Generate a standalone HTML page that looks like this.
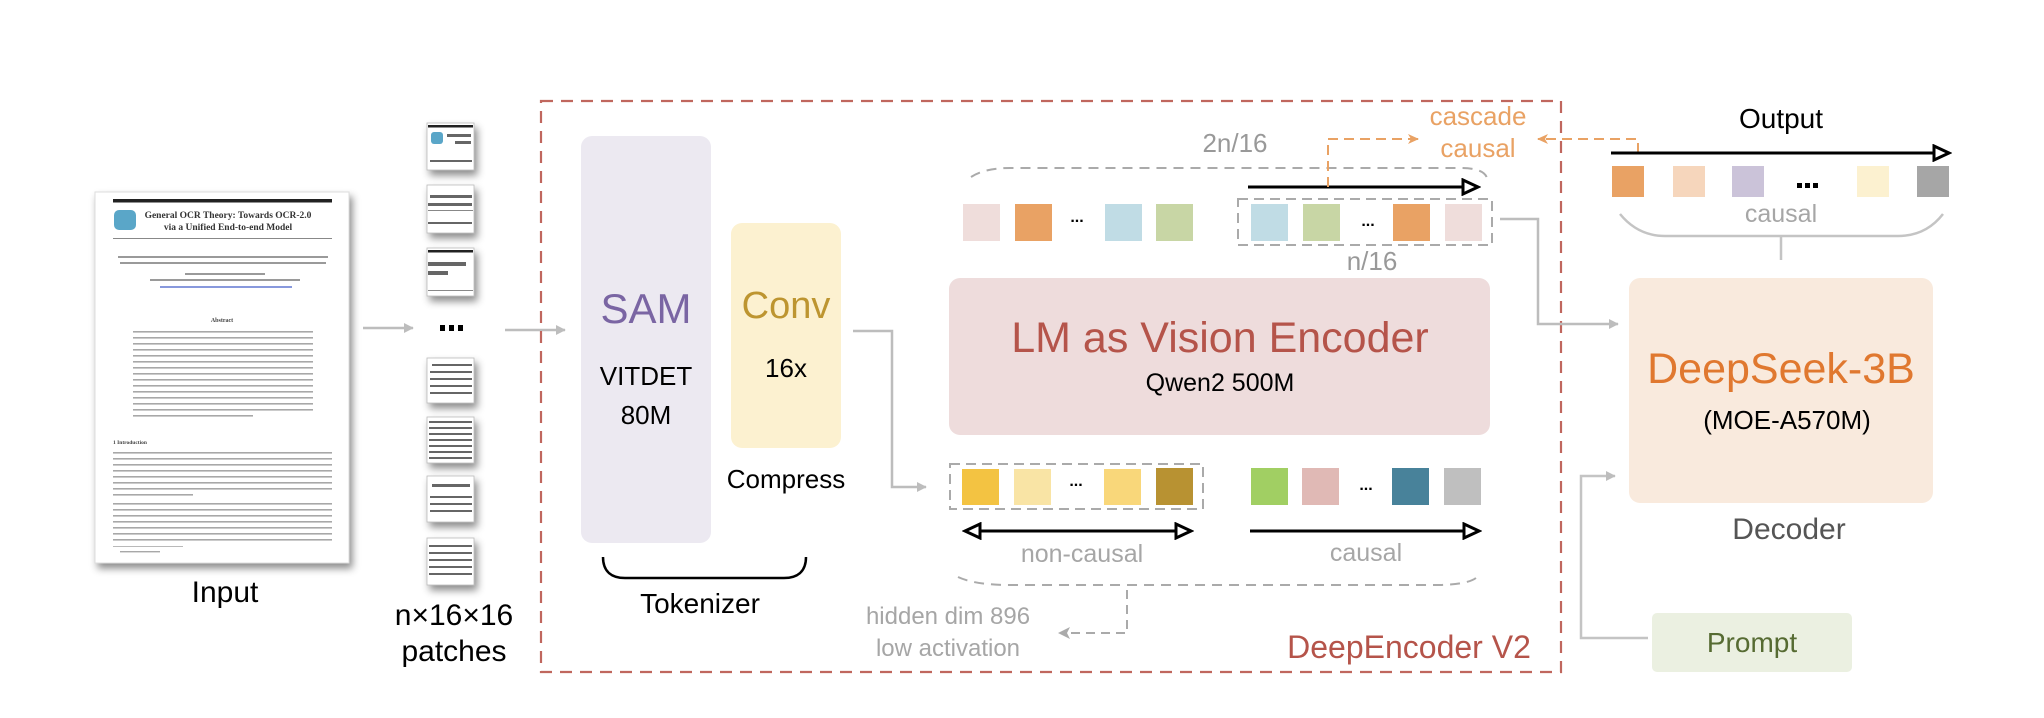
<!DOCTYPE html>
<html><head><meta charset="utf-8"><style>
html,body{margin:0;padding:0;background:#fff}
svg{display:block}
text{font-family:"Liberation Sans",Arial,sans-serif}
.serif{font-family:"Liberation Serif",serif}
</style></head><body>
<svg width="2044" height="718" viewBox="0 0 2044 718" xmlns="http://www.w3.org/2000/svg">
<defs>
<filter id="sh" x="-20%" y="-20%" width="150%" height="150%"><feDropShadow dx="3" dy="5" stdDeviation="4" flood-color="#000" flood-opacity="0.45"/></filter>
<marker id="ga" markerWidth="10" markerHeight="10" refX="9" refY="5" orient="auto" markerUnits="userSpaceOnUse"><path d="M0,0 L14,5 L0,10 Z" fill="#bdbdbd" transform="scale(0.7,1)"/></marker>
<marker id="oa" markerWidth="12" markerHeight="12" refX="10" refY="6" orient="auto" markerUnits="userSpaceOnUse"><path d="M0,1 L11,6 L0,11 L3,6 Z" fill="#e9a264"/></marker>
<marker id="ba" markerWidth="20" markerHeight="18" refX="17" refY="9" orient="auto" markerUnits="userSpaceOnUse"><path d="M2,2 L17,9 L2,16 Z" fill="#fff" stroke="#000" stroke-width="3"/></marker>
<marker id="bs" markerWidth="20" markerHeight="18" refX="3" refY="9" orient="auto" markerUnits="userSpaceOnUse"><path d="M18,2 L3,9 L18,16 Z" fill="#fff" stroke="#000" stroke-width="3"/></marker>
</defs>

<!-- Input document -->
<g filter="url(#sh)"><rect x="95" y="192" width="254" height="371" fill="#fff" stroke="#ddd"/></g>
<rect x="113" y="199" width="219" height="3.5" fill="#222"/>
<rect x="114" y="210" width="22" height="20" rx="5" fill="#5aa6c8"/>
<text x="228" y="218" font-size="9.5" font-weight="bold" class="serif" text-anchor="middle" fill="#333">General OCR Theory: Towards OCR-2.0</text>
<text x="228" y="230" font-size="9.5" font-weight="bold" class="serif" text-anchor="middle" fill="#333">via a Unified End-to-end Model</text>
<rect x="113" y="238" width="219" height="1" fill="#888"/>
<g fill="#9a9a9a">
<rect x="118" y="256" width="210" height="2"/><rect x="120" y="262" width="206" height="2"/>
<rect x="185" y="273" width="80" height="2"/><rect x="150" y="279" width="150" height="2"/>
</g>
<rect x="160" y="286" width="132" height="2" fill="#8899dd"/>
<text x="222" y="322" font-size="6" font-weight="bold" class="serif" text-anchor="middle" fill="#444">Abstract</text>
<g fill="#a8a8a8">
<rect x="133" y="331" width="180" height="1.6"/><rect x="133" y="337" width="180" height="1.6"/><rect x="133" y="343" width="180" height="1.6"/><rect x="133" y="349" width="180" height="1.6"/><rect x="133" y="355" width="180" height="1.6"/><rect x="133" y="361" width="180" height="1.6"/><rect x="133" y="367" width="180" height="1.6"/><rect x="133" y="373" width="180" height="1.6"/><rect x="133" y="379" width="180" height="1.6"/><rect x="133" y="385" width="180" height="1.6"/><rect x="133" y="391" width="180" height="1.6"/><rect x="133" y="397" width="180" height="1.6"/><rect x="133" y="403" width="180" height="1.6"/><rect x="133" y="409" width="180" height="1.6"/><rect x="133" y="415" width="120" height="1.6"/>
</g>
<text x="113" y="444" font-size="5.5" font-weight="bold" class="serif" fill="#444">1   Introduction</text>
<g fill="#a8a8a8">
<rect x="113" y="452" width="219" height="1.6"/><rect x="113" y="458" width="219" height="1.6"/><rect x="113" y="464" width="219" height="1.6"/><rect x="113" y="470" width="219" height="1.6"/><rect x="113" y="476" width="219" height="1.6"/><rect x="113" y="482" width="219" height="1.6"/><rect x="113" y="488" width="219" height="1.6"/><rect x="113" y="494" width="80" height="1.6"/>
<rect x="113" y="503" width="219" height="1.6"/><rect x="113" y="509" width="219" height="1.6"/><rect x="113" y="515" width="219" height="1.6"/><rect x="113" y="521" width="219" height="1.6"/><rect x="113" y="527" width="219" height="1.6"/><rect x="113" y="533" width="219" height="1.6"/><rect x="113" y="539" width="219" height="1.6"/>
<rect x="113" y="546" width="70" height="0.8"/><rect x="120" y="551" width="40" height="1.4"/>
</g>
<text x="225" y="602" font-size="30" text-anchor="middle" fill="#000">Input</text>

<!-- arrow doc -> patches -->
<line x1="363" y1="328" x2="413" y2="328" stroke="#bdbdbd" stroke-width="2.5" marker-end="url(#ga)"/>

<!-- patches -->
<g filter="url(#sh)" fill="#fff" stroke="#bbb" stroke-width="0.8">
<rect x="427" y="123" width="47" height="47"/>
<rect x="427" y="185" width="47" height="48"/>
<rect x="427" y="248" width="47" height="48"/>
<rect x="427" y="358" width="47" height="45"/>
<rect x="427" y="417" width="47" height="46"/>
<rect x="427" y="476" width="47" height="46"/>
<rect x="427" y="538" width="47" height="47"/>
</g>
<g fill="#666">
<rect x="428" y="125" width="45" height="2.5" fill="#222"/><rect x="431" y="132" width="12" height="12" rx="3" fill="#5aa6c8"/>
<rect x="447" y="134" width="24" height="3"/><rect x="455" y="141" width="16" height="3"/><rect x="430" y="160" width="42" height="2"/>
<rect x="430" y="195" width="42" height="3"/><rect x="428" y="203" width="44" height="3"/><rect x="428" y="210" width="45" height="1" fill="#888"/><rect x="428" y="222" width="44" height="2"/>
<rect x="428" y="250" width="45" height="2.5" fill="#222"/><rect x="428" y="262" width="38" height="4"/><rect x="428" y="271" width="20" height="4"/><rect x="428" y="290" width="45" height="1" fill="#888"/>
<rect x="432" y="364" width="40" height="2"/><rect x="430" y="371" width="42" height="2"/><rect x="430" y="378" width="42" height="2"/><rect x="430" y="385" width="42" height="2"/><rect x="430" y="392" width="42" height="2"/>
<rect x="429" y="421" width="43" height="2"/><rect x="429" y="427" width="43" height="2"/><rect x="429" y="433" width="43" height="2"/><rect x="429" y="439" width="43" height="2"/><rect x="429" y="445" width="43" height="2"/><rect x="429" y="451" width="43" height="2"/><rect x="429" y="457" width="43" height="2"/>
<rect x="432" y="484" width="38" height="3"/><rect x="430" y="496" width="42" height="2"/><rect x="430" y="503" width="42" height="2"/><rect x="430" y="510" width="42" height="2"/>
<rect x="429" y="545" width="43" height="2"/><rect x="429" y="552" width="43" height="2"/><rect x="429" y="559" width="43" height="2"/><rect x="429" y="566" width="43" height="2"/><rect x="429" y="573" width="43" height="2"/>
</g>
<g fill="#000"><rect x="440" y="325" width="5" height="6"/><rect x="449" y="325" width="5" height="6"/><rect x="458" y="325" width="5" height="6"/></g>
<text x="454" y="625" font-size="30" text-anchor="middle" fill="#000">n×16×16</text>
<text x="454" y="661" font-size="30" text-anchor="middle" fill="#000">patches</text>

<!-- arrow patches -> SAM -->
<line x1="505" y1="330" x2="565" y2="330" stroke="#bdbdbd" stroke-width="2.5" marker-end="url(#ga)"/>

<!-- DeepEncoder dashed box -->
<rect x="541" y="101" width="1020" height="571" fill="none" stroke="#c0675e" stroke-width="2.2" stroke-dasharray="12,8"/>

<!-- SAM -->
<rect x="581" y="136" width="130" height="407" rx="11" fill="#ece9f1"/>
<text x="646" y="323" font-size="42" text-anchor="middle" fill="#7a65a3">SAM</text>
<text x="646" y="385" font-size="26" text-anchor="middle" fill="#000">VITDET</text>
<text x="646" y="424" font-size="26" text-anchor="middle" fill="#000">80M</text>
<!-- Conv -->
<rect x="731" y="223" width="110" height="225" rx="11" fill="#fcf1d0"/>
<text x="786" y="318" font-size="38" text-anchor="middle" fill="#bd9530">Conv</text>
<text x="786" y="377" font-size="26" text-anchor="middle" fill="#000">16x</text>
<text x="786" y="488" font-size="26" text-anchor="middle" fill="#000">Compress</text>
<path d="M603,557 C603,572 612,578 625,578 L784,578 C797,578 806,572 806,557" fill="none" stroke="#000" stroke-width="2.5"/>
<text x="700" y="613" font-size="28" text-anchor="middle" fill="#000">Tokenizer</text>

<!-- conv -> bottom tokens -->
<polyline points="853,331 892,331 892,487 926,487" fill="none" stroke="#bdbdbd" stroke-width="2.5" marker-end="url(#ga)"/>

<!-- top tokens -->
<path d="M971,177 Q985,168 1010,168 L1460,168 Q1484,168 1487,178" fill="none" stroke="#aaa" stroke-width="2" stroke-dasharray="10,7"/>
<text x="1235" y="152" font-size="26" text-anchor="middle" fill="#999">2n/16</text>
<rect x="963" y="204" width="37" height="37" fill="#efdddb"/>
<rect x="1015" y="204" width="37" height="37" fill="#e9a264"/>
<text x="1077" y="222" font-size="16" font-weight="bold" text-anchor="middle" fill="#000">...</text>
<rect x="1105" y="204" width="37" height="37" fill="#c0dce5"/>
<rect x="1156" y="204" width="37" height="37" fill="#c8d6a5"/>
<rect x="1238" y="199" width="254" height="46" fill="none" stroke="#aaa" stroke-width="2" stroke-dasharray="10,6"/>
<rect x="1251" y="204" width="37" height="37" fill="#c0dce5"/>
<rect x="1303" y="204" width="37" height="37" fill="#c8d6a5"/>
<text x="1368" y="226" font-size="16" font-weight="bold" text-anchor="middle" fill="#000">...</text>
<rect x="1393" y="204" width="37" height="37" fill="#e9a264"/>
<rect x="1445" y="204" width="37" height="37" fill="#efdddb"/>
<line x1="1248" y1="187" x2="1478" y2="187" stroke="#000" stroke-width="3" marker-end="url(#ba)"/>
<text x="1372" y="270" font-size="26" text-anchor="middle" fill="#999">n/16</text>
<polyline points="1328,187 1328,139 1418,139" fill="none" stroke="#e9a264" stroke-width="2" stroke-dasharray="10,6" marker-end="url(#oa)"/>
<text x="1478" y="125" font-size="26" text-anchor="middle" fill="#e9a264">cascade</text>
<text x="1478" y="157" font-size="26" text-anchor="middle" fill="#e9a264">causal</text>
<polyline points="1638,153 1638,139 1538,139" fill="none" stroke="#e9a264" stroke-width="2" stroke-dasharray="10,6" marker-end="url(#oa)"/>

<!-- LM box -->
<rect x="949" y="278" width="541" height="157" rx="11" fill="#eedcdc"/>
<text x="1220" y="352" font-size="43" text-anchor="middle" fill="#b5544a">LM as Vision Encoder</text>
<text x="1220" y="391" font-size="25" text-anchor="middle" fill="#000">Qwen2 500M</text>

<!-- top tokens -> decoder -->
<polyline points="1500,219 1538,219 1538,324 1618,324" fill="none" stroke="#bdbdbd" stroke-width="2.5" marker-end="url(#ga)"/>

<!-- bottom tokens -->
<rect x="950" y="464" width="253" height="45" fill="none" stroke="#aaa" stroke-width="2" stroke-dasharray="10,6"/>
<rect x="962" y="469" width="37" height="36" fill="#f3c342"/>
<rect x="1014" y="469" width="37" height="36" fill="#f9e4a5"/>
<text x="1076" y="486" font-size="16" font-weight="bold" text-anchor="middle" fill="#000">...</text>
<rect x="1104" y="469" width="37" height="36" fill="#f9d77a"/>
<rect x="1156" y="468" width="37" height="37" fill="#b89232"/>
<rect x="1251" y="468" width="37" height="37" fill="#a1cf63"/>
<rect x="1302" y="468" width="37" height="37" fill="#e0b9b5"/>
<text x="1366" y="490" font-size="16" font-weight="bold" text-anchor="middle" fill="#000">...</text>
<rect x="1392" y="468" width="37" height="37" fill="#48829a"/>
<rect x="1444" y="468" width="37" height="37" fill="#bfbfbf"/>
<line x1="965" y1="531" x2="1191" y2="531" stroke="#000" stroke-width="3" marker-start="url(#bs)" marker-end="url(#ba)"/>
<line x1="1250" y1="531" x2="1479" y2="531" stroke="#000" stroke-width="3" marker-end="url(#ba)"/>
<text x="1082" y="562" font-size="25" text-anchor="middle" fill="#a6a6a6">non-causal</text>
<text x="1366" y="561" font-size="25" text-anchor="middle" fill="#a6a6a6">causal</text>
<path d="M958,577 Q975,585 1010,585 L1440,585 Q1472,584 1478,576" fill="none" stroke="#aaa" stroke-width="2" stroke-dasharray="10,7"/>
<polyline points="1127,590 1127,633 1062,633" fill="none" stroke="#aaa" stroke-width="2" stroke-dasharray="9,6"/>
<path d="M1058,633 L1070,627 L1067,633 L1070,639 Z" fill="#aaa"/>
<text x="948" y="624" font-size="24" text-anchor="middle" fill="#a6a6a6">hidden dim 896</text>
<text x="948" y="656" font-size="24" text-anchor="middle" fill="#a6a6a6">low activation</text>
<text x="1409" y="658" font-size="32" text-anchor="middle" fill="#b5544a">DeepEncoder V2</text>

<!-- Output -->
<text x="1781" y="128" font-size="28" text-anchor="middle" fill="#000">Output</text>
<line x1="1611" y1="153" x2="1949" y2="153" stroke="#000" stroke-width="3" marker-end="url(#ba)"/>
<rect x="1612" y="166" width="32" height="31" fill="#e9a264"/>
<rect x="1673" y="166" width="32" height="31" fill="#f6d6bc"/>
<rect x="1732" y="166" width="32" height="31" fill="#cbc3d9"/>
<g fill="#000"><rect x="1797" y="183" width="5" height="5"/><rect x="1805" y="183" width="5" height="5"/><rect x="1813" y="183" width="5" height="5"/></g>
<rect x="1857" y="166" width="32" height="31" fill="#fcf1d0"/>
<rect x="1917" y="166" width="32" height="31" fill="#a6a6a6"/>
<text x="1781" y="222" font-size="25" text-anchor="middle" fill="#a6a6a6">causal</text>
<path d="M1620,214 Q1638,236 1665,236 L1898,236 Q1926,236 1943,214" fill="none" stroke="#c4c4c4" stroke-width="2.5"/>
<line x1="1781" y1="236" x2="1781" y2="260" stroke="#c4c4c4" stroke-width="2.5"/>

<!-- Decoder -->
<rect x="1629" y="278" width="304" height="225" rx="11" fill="#f9eadd"/>
<text x="1781" y="383" font-size="43" text-anchor="middle" fill="#e0782f">DeepSeek-3B</text>
<text x="1787" y="429" font-size="26" text-anchor="middle" fill="#000">(MOE-A570M)</text>
<text x="1789" y="539" font-size="30" text-anchor="middle" fill="#555">Decoder</text>

<!-- Prompt -->
<rect x="1652" y="613" width="200" height="59" rx="5" fill="#ebf0e1"/>
<text x="1752" y="652" font-size="28" text-anchor="middle" fill="#566b32">Prompt</text>
<polyline points="1648,638 1581,638 1581,476 1615,476" fill="none" stroke="#c4c4c4" stroke-width="2.5" marker-end="url(#ga)"/>
</svg>
</body></html>
